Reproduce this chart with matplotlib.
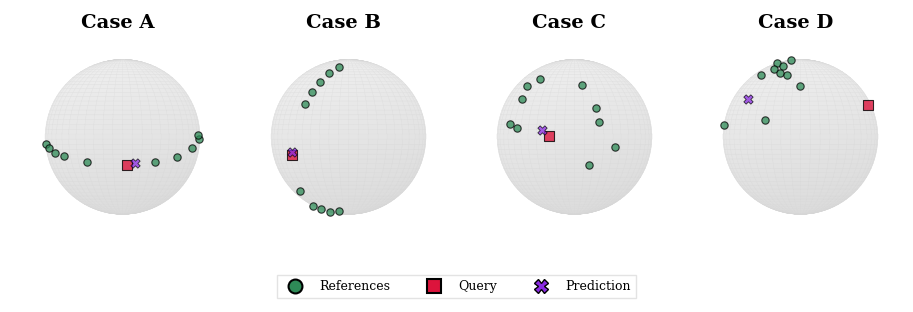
import numpy as np
import matplotlib
matplotlib.use("Agg")
import matplotlib.pyplot as plt
from matplotlib.lines import Line2D

plt.rcParams['font.family'] = ['DejaVu Serif']

titles = ["Case A", "Case B", "Case C", "Case D"]

# longitude / latitude (degrees) of each point, seen from the front
ref_lon = [
    [-84, -73, -62.4, -51.3, -29.5, 25.9, 47.1, 65.4, 76.2, 78.8],
    [-16.6, -25.9, -31.2, -35.4, -38.6, -60.5, -78.6, -88, -63.5, -25.0],
    [-41.6, -54.5, -51.3, 7.0, 17.4, 18.5, -57.4, -48.5, 31.6, 11.2],
    [-88, -78.6, -32.6, -45.3, -27.8, -17.2, -56.5, -0.7, -27.8, -88],
]
ref_lat = [
    [-5, -8.4, -11.8, -14.4, -19.3, -19.3, -14.7, -8.6, 1.3, -1.6],
    [64.0, 55.6, 45.4, 35.6, 25.5, -44.3, -62.4, -69.5, -74.6, -73.4],
    [48.3, 41.0, 28.9, 41.7, 22.0, 11.4, 9.3, 6.6, -7.8, -20.9],
    [83, 72.0, 65.8, 60.8, 55.6, 53.0, 52.6, 41.3, 12.6, 8.8],
]
query_lon = [3.8, -48.8, -19.4, 72.5]
query_lat = [-21.2, -13.9, 0.9, 24.7]
pred_lon = [9.9, -48.3, -25.1, -51.5]
pred_lat = [-19.6, -11.4, 5.1, 29.1]


def to_xyz(lon, lat):
    lon = np.radians(np.asarray(lon))
    lat = np.radians(np.asarray(lat))
    return np.cos(lat) * np.cos(lon), np.cos(lat) * np.sin(lon), np.sin(lat)


fig, axes = plt.subplots(1, 4, figsize=(9.13, 3.12), dpi=100,
                         subplot_kw=dict(projection='3d', computed_zorder=False))
fig.subplots_adjust(left=0.005, right=0.995, top=0.885, bottom=0.24, wspace=0)

# sphere mesh, pale grey, a bit lighter on top
u = np.linspace(0, 2 * np.pi, 50)
v = np.linspace(0, np.pi, 50)
sx = np.outer(np.cos(u), np.sin(v))
sy = np.outer(np.sin(u), np.sin(v))
sz = np.outer(np.ones_like(u), np.cos(v))
grey = 0.895 + 0.035 * sz - 0.01 * sy
face = np.stack([grey, grey, grey, np.ones_like(grey)], axis=-1)

for i, ax in enumerate(axes):
    ax.plot_surface(sx, sy, sz, facecolors=face, shade=False, linewidth=0.25,
                    edgecolor=(0.84, 0.84, 0.84, 0.35), antialiased=True, zorder=1)
    x, y, z = to_xyz(ref_lon[i], ref_lat[i])
    ax.scatter(x, y, z, s=28, c='seagreen', edgecolors='black', linewidths=0.8,
               alpha=0.75, depthshade=False, zorder=3)
    x, y, z = to_xyz(query_lon[i], query_lat[i])
    ax.scatter(x, y, z, s=60, c='crimson', marker='s', edgecolors='black',
               linewidths=0.8, alpha=0.8, depthshade=False, zorder=4)
    x, y, z = to_xyz(pred_lon[i], pred_lat[i])
    ax.scatter(x, y, z, s=45, c='blueviolet', marker='X', edgecolors='black',
               linewidths=0.6, alpha=0.75, depthshade=False, zorder=5)
    ax.set_proj_type('ortho')
    ax.view_init(elev=0, azim=0)
    ax.set_xlim(-1, 1)
    ax.set_ylim(-1.03, 0.97)
    ax.set_zlim(-0.96, 1.04)
    ax.set_box_aspect((1, 1, 1), zoom=1.294)
    ax.set_axis_off()
    ax.set_title(titles[i], fontsize=14, fontweight='bold')

handles = [
    Line2D([], [], ls='none', marker='o', ms=10, mfc='seagreen', mec='black', mew=1.5),
    Line2D([], [], ls='none', marker='s', ms=10, mfc='crimson', mec='black', mew=1.5),
    Line2D([], [], ls='none', marker='X', ms=10, mfc='blueviolet', mec='black', mew=1.0),
]
fig.legend(handles, ["References", "Query", "Prediction"], loc='center',
           bbox_to_anchor=(0.5, 0.082), ncol=3, fontsize=9, fancybox=False,
           edgecolor='#dddddd', handletextpad=0.95, columnspacing=2.5)

fig.savefig("out.png", dpi=100)
